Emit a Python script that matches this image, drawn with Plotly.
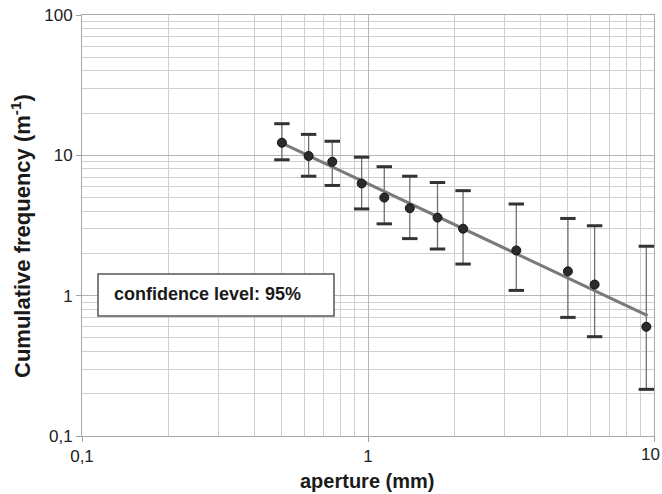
import plotly.graph_objects as go

# ---- data ----
aperture = [0.50, 0.62, 0.75, 0.95, 1.14, 1.40, 1.75, 2.15, 3.3, 5.0, 6.2, 9.4]
freq = [12.3, 9.9, 9.0, 6.3, 5.0, 4.2, 3.6, 3.0, 2.1, 1.49, 1.2, 0.60]
upper = [16.8, 14.1, 12.6, 9.7, 8.3, 7.1, 6.4, 5.6, 4.5, 3.55, 3.15, 2.25]
lower = [9.3, 7.1, 6.1, 4.15, 3.25, 2.55, 2.15, 1.68, 1.09, 0.70, 0.51, 0.215]
fit_x = [0.5, 9.5]
fit_y = [12.2, 0.72]

x_tickvals = [0.1, 1, 10]
x_ticktext = ["0,1", "1", "10"]
y_tickvals = [0.1, 1, 10, 100]
y_ticktext = ["0,1", "1", "10", "100"]
x_minor = [0.2, 0.3, 0.4, 0.5, 0.6, 0.7, 0.8, 0.9, 2, 3, 4, 5, 6, 7, 8, 9]
y_minor = [0.2, 0.3, 0.4, 0.5, 0.6, 0.7, 0.8, 0.9, 2, 3, 4, 5, 6, 7, 8, 9,
           20, 30, 40, 50, 60, 70, 80, 90]

x_title = "aperture (mm)"
y_title = "Cumulative frequency (m<sup>-1</sup>)"
box_text = "confidence level: 95%"

FONT = "Liberation Sans, Arial, sans-serif"

err_plus = [u - f for u, f in zip(upper, freq)]
err_minus = [f - l for f, l in zip(freq, lower)]

fig = go.Figure()

# error bar stems
fig.add_trace(go.Scatter(
    x=aperture, y=freq, mode="markers",
    marker=dict(size=1, color="rgba(0,0,0,0)"),
    error_y=dict(type="data", symmetric=False, array=err_plus,
                 arrayminus=err_minus, color="#707070", thickness=1.3, width=0),
    showlegend=False, hoverinfo="skip"))

# error bar caps
fig.add_trace(go.Scatter(
    x=aperture + aperture, y=upper + lower, mode="markers",
    marker=dict(symbol="line-ew", size=11, line=dict(width=3, color="#333333")),
    showlegend=False, hoverinfo="skip"))

# fitted line
fig.add_trace(go.Scatter(
    x=fit_x, y=fit_y, mode="lines",
    line=dict(color="#7a7a7a", width=3),
    showlegend=False))

# data points
fig.add_trace(go.Scatter(
    x=aperture, y=freq, mode="markers",
    marker=dict(size=9, color="#2b2b2b", line=dict(color="#111111", width=1)),
    showlegend=False))

axis_common = dict(
    type="log", showgrid=True, gridcolor="#b5b5b5", gridwidth=1,
    showline=True, linecolor="#a8a8a8", linewidth=1, mirror=True,
    ticks="outside", ticklen=5, tickcolor="#a0a0a0",
    tickfont=dict(family=FONT, size=17, color="#222222"),
    automargin=False,
    zeroline=False,
)

# the last x label ("10") sits at the right edge; it is drawn as an
# annotation nudged inside the page, like in the reference
fig.update_xaxes(
    **axis_common, range=[-1, 1],
    tickmode="array", tickvals=x_tickvals,
    ticktext=x_ticktext[:-1] + [""],
    minor=dict(tickmode="array", tickvals=x_minor, showgrid=True,
               gridcolor="#cfcfcf", gridwidth=1, ticks=""),
)
fig.update_yaxes(
    **axis_common, range=[-1, 2],
    tickmode="array", tickvals=y_tickvals, ticktext=y_ticktext,
    minor=dict(tickmode="array", tickvals=y_minor, showgrid=True,
               gridcolor="#cfcfcf", gridwidth=1, ticks=""),
)

L, R, T, B = 82, 8, 15, 58
W, H = 662, 494
pw, ph = W - L - R, H - T - B


def px_x(p):
    return (p - L) / pw


def px_y(p):
    return (H - B - p) / ph


fig.add_annotation(text=x_ticktext[-1], xref="paper", yref="paper",
                   x=px_x(650), y=px_y(455), xanchor="center", yanchor="middle",
                   showarrow=False, font=dict(family=FONT, size=17, color="#222222"))

fig.add_shape(type="rect", xref="paper", yref="paper",
              x0=px_x(98), x1=px_x(334), y0=px_y(316), y1=px_y(274),
              line=dict(color="#555555", width=1.5), fillcolor="white",
              layer="above")

fig.add_annotation(text="<b>" + box_text + "</b>", xref="paper", yref="paper",
                   x=px_x(112), y=px_y(294), xanchor="left", yanchor="middle",
                   showarrow=False, font=dict(family=FONT, size=18, color="#1a1a1a"))

fig.add_annotation(text="<b>" + x_title + "</b>", xref="paper", yref="paper",
                   x=px_x(367), y=px_y(481), xanchor="center", yanchor="middle",
                   showarrow=False, font=dict(family=FONT, size=20, color="#1a1a1a"))

fig.add_annotation(text="<b>" + y_title + "</b>", xref="paper", yref="paper",
                   x=px_x(21), y=px_y(236), xanchor="center", yanchor="middle",
                   textangle=-90, showarrow=False,
                   font=dict(family=FONT, size=22, color="#1a1a1a"))

fig.update_layout(
    width=W, height=H,
    margin=dict(l=L, r=R, t=T, b=B, autoexpand=False),
    paper_bgcolor="white", plot_bgcolor="white",
    font=dict(family=FONT),
    showlegend=False,
)

fig.write_html("out.html")
